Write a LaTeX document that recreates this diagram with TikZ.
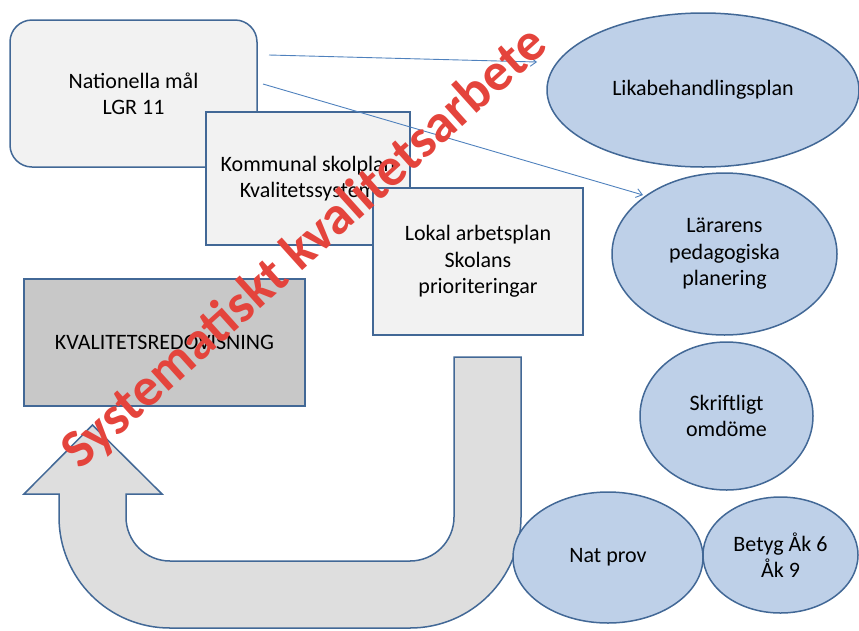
\documentclass[tikz,border=0pt]{standalone}
\usepackage{fontspec}
\setmainfont{Carlito}
\usepackage{tikz}
\usetikzlibrary{shapes.geometric,arrows.meta}

\definecolor{edgeblue}{RGB}{66,104,150}
\definecolor{linkblue}{RGB}{79,129,189}
\definecolor{bubblefill}{RGB}{190,208,232}
\definecolor{planfill}{RGB}{242,242,242}
\definecolor{reportfill}{RGB}{200,200,200}
\definecolor{loopfill}{RGB}{222,222,222}
\definecolor{stampred}{RGB}{228,68,60}

\tikzset{
	plan/.style={draw=edgeblue, line width=1.5pt, fill=planfill, align=center, inner sep=0pt, font=\fontsize{22}{26.4}\selectfont},
	bubble/.style={plan, ellipse, fill=bubblefill},
	link/.style={draw=linkblue, line width=0.9pt, -{Straight Barb[length=6pt,width=9pt]}},
	watermark/.style={text=stampred, font=\bfseries\fontsize{54}{54}\selectfont, inner sep=0pt}
}

\begin{document}
\begin{tikzpicture}[x=1pt,y=-1pt]
	\useasboundingbox (0,0) rectangle (859,630);

	% Steering documents, stacked from top left
	\node [plan, rounded corners=22pt, minimum width=247pt, minimum height=147pt] (goals) at (133.5,93.5) {Nationella mål\\LGR 11};
	\node [plan, minimum width=204pt, minimum height=133pt] (kommun) at (308,178.5) {Kommunal skolplan\\Kvalitetssystem};
	\node [plan, minimum width=210pt, minimum height=147pt] (lokal) at (478,261.5) {Lokal arbetsplan\\Skolans\\prioriteringar};
	\node [plan, fill=reportfill, minimum width=281pt, minimum height=127pt] (report) at (164.5,342.5) {KVALITETSREDOVISNING};

	% Ellipses on the right
	\node [bubble, minimum width=312pt, minimum height=154pt] (lika) at (703,90) {Likabehandlingsplan};
	\node [bubble, minimum width=225pt, minimum height=162pt] (larare) at (724.5,254) {Lärarens\\pedagogiska\\planering};
	\node [bubble, minimum width=173pt, minimum height=148pt] (omdome) at (726.5,416) {Skriftligt\\omdöme};

	% U-turn arrow back up to the report
	\draw [draw=edgeblue, line width=1.5pt, fill=loopfill] (92.5,425) -- (162,494) -- (126,494) -- (126,517)
		arc [start angle=180, end angle=270, radius=44pt] -- (410,561)
		arc [start angle=270, end angle=360, radius=44pt] -- (454,357) -- (521,357) -- (521,517)
		arc [start angle=0, end angle=-90, radius=111pt] -- (170,628)
		arc [start angle=-90, end angle=-180, radius=111pt] -- (59,494) -- (24,494) -- cycle;

	\node [bubble, minimum width=190pt, minimum height=131pt] (natprov) at (608,557.5) {Nat prov};
	\node [bubble, minimum width=155pt, minimum height=116pt] (betyg) at (780.5,555) {Betyg Åk 6\\Åk 9};

	% Thin arrows from the national goals
	\coordinate (g1) at (269,55);
	\coordinate (g2) at (263,84);
	\coordinate (t1) at (537,62);
	\coordinate (t2) at (643,195);
	\draw [link] (g1) -- (t1);
	\draw [link] (g2) -- (t2);

	% Diagonal title over everything
	\node [watermark, anchor=base west, rotate=42] (title) at (80,471) {Systematiskt kvalitetsarbete};
\end{tikzpicture}
\end{document}
